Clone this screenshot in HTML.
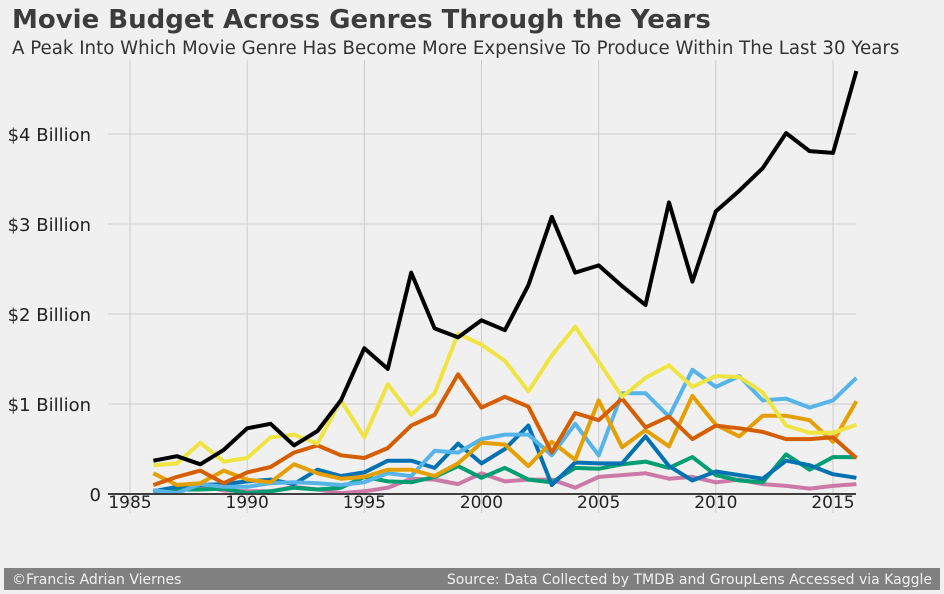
<!DOCTYPE html>
<html><head><meta charset="utf-8"><style>
html,body{margin:0;padding:0;background:#f0f0f0;overflow:hidden;width:944px;height:594px;}
svg{display:block;}
svg text{font-family:"DejaVu Sans","Liberation Sans",sans-serif;}
</style></head><body>
<svg id="c" width="944" height="594" viewBox="0 0 944 594">
<rect x="0" y="0" width="944" height="594" fill="#f0f0f0"/>
<text x="12" y="28" font-size="26" font-weight="bold" fill="#3c3c3c">Movie Budget Across Genres Through the Years</text>
<text x="12" y="54" font-size="18.2" fill="#333">A Peak Into Which Movie Genre Has Become More Expensive To Produce Within The Last 30 Years</text>
<g id="grid"></g>
<g id="series"></g>
<rect x="4" y="568" width="936" height="22" fill="#808080"/>
<text x="12" y="584" font-size="14" fill="#f0f0f0">©Francis Adrian Viernes</text>
<text x="932" y="584" font-size="14" fill="#f0f0f0" text-anchor="end">Source: Data Collected by TMDB and GroupLens Accessed via Kaggle</text>
</svg>
<script>
const years=[];for(let y=1986;y<=2016;y++)years.push(y);
const xTicks=[1985,1990,1995,2000,2005,2010,2015];
const yTicks=[0,1,2,3,4];
const yTickLabels=["0","$1 Billion","$2 Billion","$3 Billion","$4 Billion"];
const black=[.37,.42,.33,.49,.73,.78,.54,.70,1.04,1.62,1.39,2.46,1.84,1.74,1.93,1.82,2.32,3.08,2.46,2.54,2.31,2.10,3.24,2.36,3.14,3.37,3.62,4.01,3.81,3.79,4.70];
const yellow=[.32,.34,.57,.36,.40,.63,.66,.56,1.04,.63,1.22,.88,1.12,1.78,1.66,1.48,1.14,1.54,1.86,1.47,1.08,1.29,1.43,1.19,1.31,1.30,1.13,.76,.68,.68,.77];
const vermillion=[.10,.19,.26,.12,.24,.30,.46,.54,.43,.40,.51,.76,.88,1.33,.96,1.08,.97,.46,.90,.82,1.06,.74,.86,.61,.76,.73,.69,.61,.61,.63,.40];
const orange=[.23,.10,.12,.26,.16,.13,.33,.23,.17,.19,.27,.27,.20,.34,.57,.55,.31,.58,.38,1.04,.52,.71,.53,1.09,.77,.64,.87,.87,.82,.58,1.03];
const skyblue=[.04,.01,.11,.08,.08,.12,.13,.12,.10,.13,.23,.20,.48,.46,.61,.66,.66,.43,.78,.43,1.12,1.12,.86,1.38,1.19,1.31,1.04,1.06,.96,1.04,1.29];
const blue=[.03,.08,.10,.11,.14,.16,.11,.27,.20,.24,.37,.37,.29,.56,.34,.50,.76,.10,.35,.34,.34,.64,.31,.15,.25,.21,.17,.37,.32,.22,.18];
const green=[.02,.05,.05,.06,.01,.03,.07,.05,.07,.19,.14,.13,.19,.31,.18,.29,.16,.13,.29,.28,.33,.36,.29,.41,.21,.15,.13,.44,.27,.41,.41];
const pink=[.04,.03,.09,.04,.03,.03,.08,.05,.01,.03,.07,.17,.16,.11,.23,.14,.16,.16,.07,.19,.21,.23,.17,.19,.13,.16,.11,.09,.06,.09,.11];
const X=y=>130+(y-1985)*(703/30);
const Y=v=>494-v*90;
const NS="http://www.w3.org/2000/svg";
const grid=document.getElementById('grid');
function mk(t,a,p){const e=document.createElementNS(NS,t);for(const k in a)e.setAttribute(k,a[k]);p.appendChild(e);return e;}
xTicks.forEach(t=>{
 const l=mk('line',{x1:X(t),x2:X(t),y1:60,y2:513,stroke:'#cbcbcb','stroke-width':1},grid);
 
 
 const tx=mk('text',{x:X(t),y:508,'font-size':17,fill:'#222','text-anchor':'middle'},grid);
 tx.textContent=t;
 
 
});
yTicks.forEach((t,i)=>{
 if(t>0){const l=mk('line',{x1:108,x2:856,y1:Y(t),y2:Y(t),stroke:'#cbcbcb','stroke-width':1},grid);
 
 }
 const tx=mk('text',{x:(t===0?101:91),y:Y(t)+7,'font-size':18,fill:'#222','text-anchor':'end'},grid);
 tx.textContent=yTickLabels[i];
 
 
});
const series=[[pink,'#CC79A7','pink'],[green,'#009E73','green'],[blue,'#0072B2','blue'],[skyblue,'#56B4E9','skyblue'],[orange,'#E69F00','orange'],[vermillion,'#D55E00','vermillion'],[yellow,'#F0E442','yellow'],[black,'#000000','black']];
const sg=document.getElementById('series');
series.forEach(s=>{
 const d=s[0].map((v,i)=>(i?'L':'M')+X(years[i]).toFixed(1)+' '+Y(v).toFixed(1)).join(' ');
 const p=mk('path',{d:d,fill:'none',stroke:s[1],'stroke-width':4,'stroke-linejoin':'round'},sg);
 
 
});
const base=mk('line',{x1:108,x2:856,y1:494,y2:494,stroke:'#3f3f3f','stroke-width':2},sg);


</script>
</body></html>
